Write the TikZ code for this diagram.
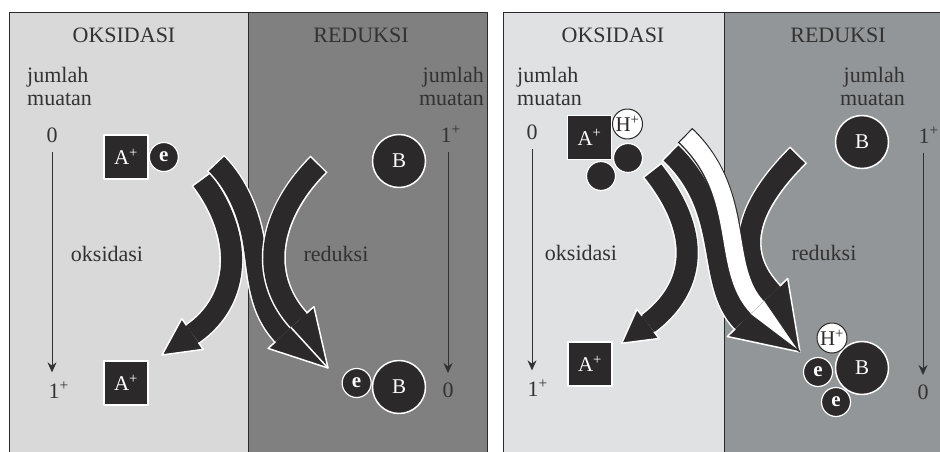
\documentclass[tikz,border=0pt]{standalone}
\usepackage{fontspec}
\setmainfont{Liberation Serif}
\usetikzlibrary{arrows.meta,positioning}

\definecolor{inkc}{RGB}{43,41,42}
\definecolor{textc}{RGB}{50,50,50}
\definecolor{oksL}{RGB}{217,217,217}
\definecolor{redL}{RGB}{128,128,128}
\definecolor{oksR}{RGB}{224,225,227}
\definecolor{redR}{RGB}{147,150,153}

\begin{document}
\begin{tikzpicture}
  [x=1pt, y=-1pt, line join=round,
   txt/.style={text=textc, font=\fontsize{22}{23}\selectfont},
   ion/.style={rectangle, draw=white, fill=inkc, line width=1.5pt,
     minimum size=44pt, inner sep=0pt, text=white,
     font=\fontsize{21}{21}\selectfont},
   elec/.style={circle, draw=white, fill=inkc, line width=1.2pt,
     minimum size=29pt, inner sep=0pt, text=white,
     font=\fontsize{21}{21}\selectfont\bfseries},
   atom/.style={circle, draw=white, fill=inkc, line width=1.5pt,
     minimum size=53pt, inner sep=0pt, text=white,
     font=\fontsize{21}{21}\selectfont},
   proton/.style={circle, draw=inkc, fill=white, line width=1pt,
     minimum size=30pt, inner sep=0pt, text=inkc,
     font=\fontsize{21}{21}\selectfont},
   charge/.style={draw=textc, line width=1pt, shorten <=6pt, shorten >=6pt,
     -{Stealth[length=10pt,width=9pt]}},
   band/.style={draw=inkc, line width=21pt,
     preaction={draw=white, line width=24pt, shorten <=-1.5pt}},
   hband/.style={draw=white, line width=18pt,
     preaction={draw=inkc, line width=20.5pt, shorten <=-1.2pt}},
   head/.style={fill=inkc, draw=white, line width=1.5pt}]

  \useasboundingbox (0,0) rectangle (940,452);
  \clip (0,0) rectangle (940,452);

  % panel kiri
  \fill[oksL] (9,12) rectangle (248,460);
  \fill[redL] (248,12) rectangle (487,460);
  \draw[inkc, line width=0.8pt] (9,460) |- (487,12) -- (487,460) (248,12) -- (248,460);

  % panel kanan
  \fill[oksR] (503,12) rectangle (724,460);
  \fill[redR] (724,12) rectangle (950,460);
  \draw[inkc, line width=0.8pt] (503,460) |- (950,12) (724,12) -- (724,460);

  \node[txt] (oksTitleL) at (124,35) {OKSIDASI};
  \node[txt] (redTitleL) at (361,35) {REDUKSI};
  \node[txt, align=left, anchor=west, inner sep=0pt] (jmlL) at (27,86) {jumlah\\muatan};
  \node[txt, align=right, anchor=east, inner sep=0pt] (jmlLR) at (484,86) {jumlah\\muatan};
  \node[txt] (zeroL) at (52,135) {0};
  \node[txt, anchor=west] (oneL) at (45,390) {1\textsuperscript{+}};
  \draw[charge] (zeroL.south) -- (zeroL |- oneL.north);
  \node[txt, anchor=west] (oneLR) at (437,134) {1\textsuperscript{+}};
  \node[txt] (zeroLR) at (448,390) {0};
  \draw[charge] (zeroLR |- oneLR.south) -- (zeroLR.north);
  \node[txt] (oksiL) at (107,254) {oksidasi};
  \node[txt] (reduL) at (336,254) {reduksi};

  \draw[band] (202,180) .. controls (244,236) and (241.7,299.8) .. (192.5,334);
  \filldraw[head] (198.5,342.6) -- (203.2,349.4) -- (162,355) -- (181.8,318.6) -- (186.5,325.4);
  \draw[band] (216.5,164) .. controls (237.5,185) and (249.5,215.3) .. (254,245)
    .. controls (259.25,279.65) and (259.6,308.8) .. (283.25,334.6);
  \draw[band] (318,165) .. controls (268.5,214.5) and (258.25,276.1) .. (298.75,320.4);
  \filldraw[head] (275.5,341.7) -- (268.1,348.4) -- (328,368) -- (313.9,306.6) -- (306.5,313.3);
  \draw[white, line width=1.5pt] (291,327.5) -- (328,368);

  \node[ion] (A1) at (126,157) {A\textsuperscript{+}};
  \node[elec, right=0pt of A1] (e1) {e};
  \node[atom] (B1) at (399,161) {B};
  \node[ion] (A2) at (126,383) {A\textsuperscript{+}};
  \node[atom] (B2) at (399,387) {B};
  \node[elec, left=0pt of B2, yshift=4pt] (e2) {e};

  \node[txt] (oksTitleR) at (613,35) {OKSIDASI};
  \node[txt] (redTitleR) at (838,35) {REDUKSI};
  \node[txt, align=left, anchor=west, inner sep=0pt] (jmlR) at (517,86) {jumlah\\muatan};
  \node[txt, align=right, anchor=east, inner sep=0pt] (jmlRR) at (905,86) {jumlah\\muatan};
  \node[txt] (zeroR) at (532,132) {0};
  \node[txt, anchor=west] (oneR) at (524,388) {1\textsuperscript{+}};
  \draw[charge] (zeroR.south) -- (zeroR |- oneR.north);
  \node[txt, anchor=west] (oneRR) at (915,135) {1\textsuperscript{+}};
  \node[txt] (zeroRR) at (923,392) {0};
  \draw[charge] (zeroRR |- oneRR.south) -- (zeroRR.north);
  \node[txt] (oksiR) at (581,253) {oksidasi};
  \node[txt] (reduR) at (824,253) {reduksi};

  \draw[band] (653,171) .. controls (702.6,233.4) and (696,287.8) .. (648,323.8);
  \filldraw[head] (654,331.8) -- (659,338.5) -- (621.7,343.3) -- (637,309.1) -- (642,315.8);
  \draw[band] (797.5,155.8) .. controls (744.5,208.8) and (734.35,253.8) .. (772.3,293.4);
  \draw[band] (671,153) .. controls (732.2,211.65) and (704.75,282) .. (742.7,321.6);
  \draw[hband] (686,136) .. controls (747.2,194.65) and (719.55,267.9) .. (757.5,307.5);
  \filldraw[head] (735.2,328.9) -- (727.3,336.5) -- (800,352) -- (787.7,278.5) -- (779.8,286.1);
  \filldraw[fill=white, draw=inkc, line width=1pt] (750.3,314.4) -- (800,352) -- (764.7,300.6);

  \node[ion] (A3) at (589.5,137.5) {A\textsuperscript{+}};
  \node[proton] (H1) at (627.5,124) {H\textsuperscript{+}};
  \node[elec] (d1) at (628,158) {};
  \node[elec] (d2) at (601,176) {};
  \node[atom] (B3) at (862,142) {B};
  \node[ion] (A4) at (590,364) {A\textsuperscript{+}};
  \node[atom] (B4) at (862,368) {B};
  \node[elec] (e4) at (818,372) {e};
  \node[elec] (e5) at (836,402) {e};
  \node[proton] (H2) at (832,338) {H\textsuperscript{+}};
\end{tikzpicture}
\end{document}
